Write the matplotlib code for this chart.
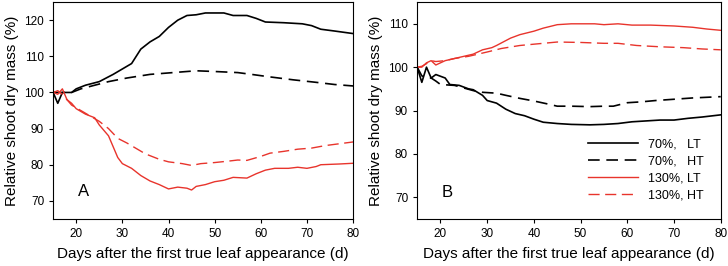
import matplotlib.pyplot as plt

plt.rcParams['font.family'] = ['Liberation Sans', 'DejaVu Sans']

RED = '#e8342c'

# Panel A
a_lt70_x = [15, 16, 17, 19, 20, 22, 25, 28, 30, 32, 34, 36, 38, 40, 42, 44, 46, 48, 50, 52, 54, 57, 59, 61, 65, 69, 71, 73, 76, 80]
a_lt70_y = [100, 97, 100, 100, 101, 102, 103, 105, 106.5, 108, 112, 114, 115.5, 118, 120, 121.3, 121.5, 122, 122, 122, 121.3, 121.3, 120.5, 119.5, 119.3, 119, 118.5, 117.5, 117, 116.3]

a_ht70_x = [15, 17, 19, 21, 24, 27, 31, 36, 41, 46, 50, 55, 58, 62, 67, 72, 76, 80]
a_ht70_y = [100, 100, 100, 101, 102, 103, 104, 105, 105.5, 106, 105.8, 105.5, 105, 104.3, 103.5, 102.8, 102.2, 101.8]

a_lt130_x = [15, 16, 17, 18, 19, 20, 22, 24, 25, 27, 28, 29, 30, 32, 34, 36, 38, 40, 42, 44, 45, 46, 48, 50, 52, 54, 57, 59, 61, 63, 66, 68, 70, 72, 73, 77, 80]
a_lt130_y = [100, 99.5, 101, 98, 97, 95.5, 94, 93, 91, 88, 85, 82, 80.3, 79, 77, 75.5, 74.5, 73.3, 73.8, 73.5, 73, 74, 74.5, 75.3, 75.7, 76.5, 76.3, 77.5, 78.5, 79, 79, 79.3, 79, 79.5, 80, 80.2, 80.4]

a_ht130_x = [15, 16, 17, 18, 19, 21, 23, 25, 27, 29, 31, 33, 35, 38, 40, 43, 45, 47, 50, 53, 55, 57, 60, 62, 65, 68, 71, 74, 77, 80]
a_ht130_y = [100, 100.5, 99.5, 98, 96.5, 95, 93.5, 92, 90, 87.3, 86, 84.5, 83, 81.5, 80.8, 80.3, 79.8, 80.3, 80.6, 81, 81.3, 81.2, 82.3, 83.2, 83.7, 84.3, 84.6, 85.3, 85.8, 86.3]

# Panel B
b_lt70_x = [15, 16, 17, 18, 19, 21, 22, 24, 26, 27, 29, 30, 32, 34, 36, 38, 40, 42, 45, 48, 52, 55, 58, 61, 64, 67, 70, 73, 76, 80]
b_lt70_y = [100, 96.5, 100, 97.5, 98.3, 97.5, 96, 95.8, 95, 94.8, 93.5, 92.3, 91.7, 90.3, 89.3, 88.8, 88, 87.3, 87, 86.8, 86.7, 86.8, 87, 87.4, 87.6, 87.8, 87.8, 88.2, 88.5, 89]

b_ht70_x = [15, 16, 17, 18, 19, 20, 23, 25, 27, 29, 32, 34, 37, 40, 43, 45, 48, 52, 55, 57, 60, 63, 66, 70, 74, 80]
b_ht70_y = [100, 98, 97.5, 97.5, 96.8, 96, 95.8, 95.2, 94.6, 94.2, 94, 93.5, 92.8, 92.2, 91.5, 91, 91, 90.9, 91, 91, 91.8, 92, 92.3, 92.6, 92.9, 93.2]

b_lt130_x = [15, 16, 17, 18, 19, 21, 23, 25, 27, 29, 31, 32, 35, 37, 40, 42, 45, 48, 50, 53, 55, 58, 61, 65, 70, 74, 77, 80]
b_lt130_y = [100, 100, 101, 101.5, 100.5, 101.5, 102, 102.5, 103, 104, 104.5, 105, 106.7, 107.5, 108.3, 109, 109.8, 110, 110, 110, 109.8, 110, 109.7, 109.7, 109.5, 109.2, 108.8, 108.5]

b_ht130_x = [15, 16, 17, 18, 19, 21, 23, 26, 30, 33, 37, 41, 45, 50, 55, 58, 62, 67, 72, 76, 80]
b_ht130_y = [100, 100.2, 100.8, 101.5, 101.3, 101.5, 102, 102.5, 103.5, 104.3, 105, 105.4, 105.8, 105.7, 105.5, 105.5, 105, 104.7, 104.5, 104.2, 104]

labels = ['70%,   LT', '70%,   HT', '130%, LT', '130%, HT']

fig = plt.figure(figsize=(7.28, 2.66), dpi=100)
axA = fig.add_axes([0.073, 0.177, 0.412, 0.815])
axB = fig.add_axes([0.573, 0.177, 0.417, 0.815])

def draw(ax, series):
    styles = [('k', '-', 1.2), ('k', (0, (7, 4)), 1.2), (RED, '-', 1.0), (RED, (0, (8, 4)), 1.0)]
    for (x, y), (c, ls, lw), lab in zip(series, styles, labels):
        ax.plot(x, y, color=c, linestyle=ls, linewidth=lw, label=lab)
    ax.set_xlim(15, 80)
    ax.set_xticks(range(20, 81, 10))
    ax.set_xlabel('Days after the first true leaf appearance (d)', fontsize=11, labelpad=5)
    ax.set_ylabel('Relative shoot dry mass (%)', fontsize=11, labelpad=4)
    ax.tick_params(labelsize=8.5, length=3, width=0.8)
    for s in ax.spines.values():
        s.set_linewidth(0.8)

draw(axA, [(a_lt70_x, a_lt70_y), (a_ht70_x, a_ht70_y), (a_lt130_x, a_lt130_y), (a_ht130_x, a_ht130_y)])
axA.set_ylim(65, 125)
axA.set_yticks(range(70, 121, 10))
axA.text(21.5, 72.5, 'A', fontsize=12, ha='center', va='center')

draw(axB, [(b_lt70_x, b_lt70_y), (b_ht70_x, b_ht70_y), (b_lt130_x, b_lt130_y), (b_ht130_x, b_ht130_y)])
axB.set_ylim(65, 115)
axB.set_yticks(range(70, 111, 10))
axB.text(21.5, 71, 'B', fontsize=12, ha='center', va='center')
axB.legend(loc='lower right', frameon=False, fontsize=9, handlelength=4,
           labelspacing=0.4, bbox_to_anchor=(0.98, 0.03))

fig.savefig('out.png', dpi=100)
